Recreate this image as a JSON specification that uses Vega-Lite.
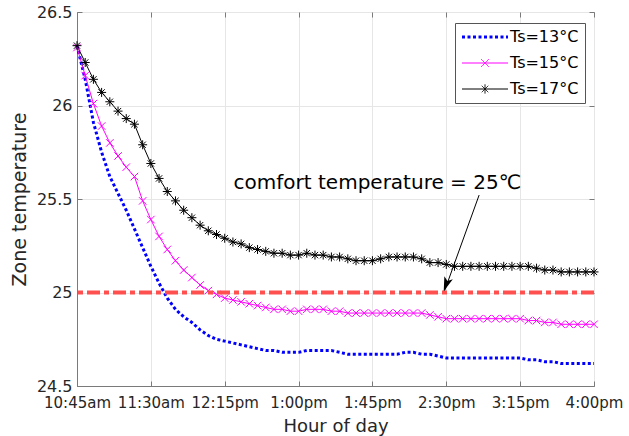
{
  "$schema": "https://vega.github.io/schema/vega-lite/v6.json",
  "width": 517,
  "height": 374,
  "autosize": "none",
  "padding": {"left": 77, "top": 12, "right": 35, "bottom": 50},
  "background": "white",
  "config": {
    "font": "DejaVu Sans",
    "view": {"stroke": "#7a7a7a", "strokeWidth": 1},
    "axis": {
      "labelFont": "DejaVu Sans",
      "titleFont": "DejaVu Sans",
      "labelColor": "#262626",
      "titleColor": "#262626",
      "titleFontWeight": "normal",
      "domainColor": "#7a7a7a",
      "tickColor": "#7a7a7a",
      "gridColor": "#e6e6e6",
      "gridWidth": 1,
      "labelFlush": false,
      "labelOverlap": false
    }
  },
  "datasets": {
    "zone": [
      {"time": "2024-01-01T10:45:00", "ts13": 26.32, "ts15": 26.31, "ts17": 26.32},
      {"time": "2024-01-01T10:50:00", "ts13": 26.14, "ts15": 26.16, "ts17": 26.23},
      {"time": "2024-01-01T10:55:00", "ts13": 25.91, "ts15": 26.01, "ts17": 26.14},
      {"time": "2024-01-01T11:00:00", "ts13": 25.75, "ts15": 25.89, "ts17": 26.07},
      {"time": "2024-01-01T11:05:00", "ts13": 25.62, "ts15": 25.80, "ts17": 26.02},
      {"time": "2024-01-01T11:10:00", "ts13": 25.53, "ts15": 25.73, "ts17": 25.97},
      {"time": "2024-01-01T11:15:00", "ts13": 25.44, "ts15": 25.67, "ts17": 25.93},
      {"time": "2024-01-01T11:20:00", "ts13": 25.34, "ts15": 25.62, "ts17": 25.90},
      {"time": "2024-01-01T11:25:00", "ts13": 25.24, "ts15": 25.49, "ts17": 25.79},
      {"time": "2024-01-01T11:30:00", "ts13": 25.14, "ts15": 25.39, "ts17": 25.69},
      {"time": "2024-01-01T11:35:00", "ts13": 25.05, "ts15": 25.30, "ts17": 25.61},
      {"time": "2024-01-01T11:40:00", "ts13": 24.97, "ts15": 25.23, "ts17": 25.54},
      {"time": "2024-01-01T11:45:00", "ts13": 24.91, "ts15": 25.17, "ts17": 25.49},
      {"time": "2024-01-01T11:50:00", "ts13": 24.87, "ts15": 25.12, "ts17": 25.44},
      {"time": "2024-01-01T11:55:00", "ts13": 24.84, "ts15": 25.08, "ts17": 25.40},
      {"time": "2024-01-01T12:00:00", "ts13": 24.80, "ts15": 25.04, "ts17": 25.36},
      {"time": "2024-01-01T12:05:00", "ts13": 24.77, "ts15": 25.01, "ts17": 25.33},
      {"time": "2024-01-01T12:10:00", "ts13": 24.75, "ts15": 24.99, "ts17": 25.31},
      {"time": "2024-01-01T12:15:00", "ts13": 24.74, "ts15": 24.97, "ts17": 25.29},
      {"time": "2024-01-01T12:20:00", "ts13": 24.73, "ts15": 24.96, "ts17": 25.27},
      {"time": "2024-01-01T12:25:00", "ts13": 24.72, "ts15": 24.95, "ts17": 25.26},
      {"time": "2024-01-01T12:30:00", "ts13": 24.71, "ts15": 24.94, "ts17": 25.24},
      {"time": "2024-01-01T12:35:00", "ts13": 24.70, "ts15": 24.93, "ts17": 25.23},
      {"time": "2024-01-01T12:40:00", "ts13": 24.69, "ts15": 24.92, "ts17": 25.22},
      {"time": "2024-01-01T12:45:00", "ts13": 24.69, "ts15": 24.91, "ts17": 25.21},
      {"time": "2024-01-01T12:50:00", "ts13": 24.68, "ts15": 24.91, "ts17": 25.21},
      {"time": "2024-01-01T12:55:00", "ts13": 24.68, "ts15": 24.90, "ts17": 25.20},
      {"time": "2024-01-01T13:00:00", "ts13": 24.68, "ts15": 24.90, "ts17": 25.20},
      {"time": "2024-01-01T13:05:00", "ts13": 24.69, "ts15": 24.91, "ts17": 25.21},
      {"time": "2024-01-01T13:10:00", "ts13": 24.69, "ts15": 24.91, "ts17": 25.20},
      {"time": "2024-01-01T13:15:00", "ts13": 24.69, "ts15": 24.91, "ts17": 25.20},
      {"time": "2024-01-01T13:20:00", "ts13": 24.69, "ts15": 24.90, "ts17": 25.19},
      {"time": "2024-01-01T13:25:00", "ts13": 24.68, "ts15": 24.90, "ts17": 25.19},
      {"time": "2024-01-01T13:30:00", "ts13": 24.67, "ts15": 24.89, "ts17": 25.18},
      {"time": "2024-01-01T13:35:00", "ts13": 24.67, "ts15": 24.89, "ts17": 25.17},
      {"time": "2024-01-01T13:40:00", "ts13": 24.67, "ts15": 24.89, "ts17": 25.17},
      {"time": "2024-01-01T13:45:00", "ts13": 24.67, "ts15": 24.89, "ts17": 25.17},
      {"time": "2024-01-01T13:50:00", "ts13": 24.67, "ts15": 24.89, "ts17": 25.18},
      {"time": "2024-01-01T13:55:00", "ts13": 24.67, "ts15": 24.89, "ts17": 25.19},
      {"time": "2024-01-01T14:00:00", "ts13": 24.67, "ts15": 24.89, "ts17": 25.19},
      {"time": "2024-01-01T14:05:00", "ts13": 24.68, "ts15": 24.89, "ts17": 25.19},
      {"time": "2024-01-01T14:10:00", "ts13": 24.68, "ts15": 24.89, "ts17": 25.19},
      {"time": "2024-01-01T14:15:00", "ts13": 24.67, "ts15": 24.89, "ts17": 25.18},
      {"time": "2024-01-01T14:20:00", "ts13": 24.67, "ts15": 24.88, "ts17": 25.16},
      {"time": "2024-01-01T14:25:00", "ts13": 24.66, "ts15": 24.87, "ts17": 25.16},
      {"time": "2024-01-01T14:30:00", "ts13": 24.65, "ts15": 24.86, "ts17": 25.15},
      {"time": "2024-01-01T14:35:00", "ts13": 24.65, "ts15": 24.86, "ts17": 25.14},
      {"time": "2024-01-01T14:40:00", "ts13": 24.65, "ts15": 24.86, "ts17": 25.14},
      {"time": "2024-01-01T14:45:00", "ts13": 24.65, "ts15": 24.86, "ts17": 25.14},
      {"time": "2024-01-01T14:50:00", "ts13": 24.65, "ts15": 24.86, "ts17": 25.14},
      {"time": "2024-01-01T14:55:00", "ts13": 24.65, "ts15": 24.86, "ts17": 25.14},
      {"time": "2024-01-01T15:00:00", "ts13": 24.65, "ts15": 24.86, "ts17": 25.14},
      {"time": "2024-01-01T15:05:00", "ts13": 24.65, "ts15": 24.86, "ts17": 25.14},
      {"time": "2024-01-01T15:10:00", "ts13": 24.65, "ts15": 24.86, "ts17": 25.14},
      {"time": "2024-01-01T15:15:00", "ts13": 24.65, "ts15": 24.86, "ts17": 25.14},
      {"time": "2024-01-01T15:20:00", "ts13": 24.64, "ts15": 24.85, "ts17": 25.14},
      {"time": "2024-01-01T15:25:00", "ts13": 24.64, "ts15": 24.85, "ts17": 25.13},
      {"time": "2024-01-01T15:30:00", "ts13": 24.63, "ts15": 24.84, "ts17": 25.12},
      {"time": "2024-01-01T15:35:00", "ts13": 24.63, "ts15": 24.84, "ts17": 25.12},
      {"time": "2024-01-01T15:40:00", "ts13": 24.62, "ts15": 24.83, "ts17": 25.11},
      {"time": "2024-01-01T15:45:00", "ts13": 24.62, "ts15": 24.83, "ts17": 25.11},
      {"time": "2024-01-01T15:50:00", "ts13": 24.62, "ts15": 24.83, "ts17": 25.11},
      {"time": "2024-01-01T15:55:00", "ts13": 24.62, "ts15": 24.83, "ts17": 25.11},
      {"time": "2024-01-01T16:00:00", "ts13": 24.62, "ts15": 24.83, "ts17": 25.11}
    ],
    "note": [
      {"time": "2024-01-01T13:48:00", "temp": 25.585, "label": "comfort temperature = 25℃"}
    ],
    "arrow": [
      {"time": "2024-01-01T14:50:00", "temp": 25.521, "time2": "2024-01-01T14:29:00", "temp2": 25.01, "headTime": "2024-01-01T14:30:00", "headTemp": 25.045}
    ]
  },
  "layer": [
    {
      "data": {"name": "zone"},
      "mark": {"type": "line", "strokeWidth": 3, "strokeDash": [3, 2.5], "strokeCap": "butt"},
      "encoding": {
        "x": {
          "field": "time",
          "type": "temporal",
          "scale": {
            "domain": [
              {"year": 2024, "month": 1, "date": 1, "hours": 10, "minutes": 45},
              {"year": 2024, "month": 1, "date": 1, "hours": 16, "minutes": 0}
            ],
            "nice": false
          },
          "axis": {
            "values": [
              {"year": 2024, "month": 1, "date": 1, "hours": 10, "minutes": 45},
              {"year": 2024, "month": 1, "date": 1, "hours": 11, "minutes": 30},
              {"year": 2024, "month": 1, "date": 1, "hours": 12, "minutes": 15},
              {"year": 2024, "month": 1, "date": 1, "hours": 13, "minutes": 0},
              {"year": 2024, "month": 1, "date": 1, "hours": 13, "minutes": 45},
              {"year": 2024, "month": 1, "date": 1, "hours": 14, "minutes": 30},
              {"year": 2024, "month": 1, "date": 1, "hours": 15, "minutes": 15},
              {"year": 2024, "month": 1, "date": 1, "hours": 16, "minutes": 0}
            ],
            "labelExpr": "lower(timeFormat(datum.value, '%-I:%M%p'))",
            "title": "Hour of day",
            "grid": true,
            "tickSize": -5,
            "labelPadding": 14,
            "labelFontSize": 15,
            "titleFontSize": 18,
            "titlePadding": 7
          }
        },
        "y": {
          "field": "ts13",
          "type": "quantitative",
          "scale": {"domain": [24.5, 26.5], "nice": false, "zero": false},
          "axis": {
            "values": [24.5, 25, 25.5, 26, 26.5],
            "format": "~g",
            "title": "Zone temperature",
            "grid": true,
            "tickSize": -5,
            "labelPadding": 10,
            "labelFontSize": 16,
            "titleFontSize": 19,
            "titlePadding": 7
          }
        },
        "color": {
          "datum": "Ts=13°C",
          "type": "nominal",
          "scale": {"domain": ["Ts=13°C", "Ts=15°C", "Ts=17°C"], "range": ["#0000ff", "#ff00ff", "#000000"]},
          "legend": {
            "orient": "none",
            "legendX": 378,
            "legendY": 11,
            "title": null,
            "padding": 6,
            "strokeColor": "#555555",
            "fillColor": "white",
            "labelFont": "DejaVu Sans",
            "labelFontSize": 16,
            "labelColor": "#000000",
            "labelOffset": 17,
            "symbolOffset": 16,
            "symbolType": "stroke",
            "symbolSize": 2116,
            "rowPadding": 10,
            "encode": {
              "symbols": {
                "update": {
                  "shape": {"signal": "datum.value === 'Ts=15°C' ? 'M-1,0H1M-0.17,-0.17L0.17,0.17M-0.17,0.17L0.17,-0.17' : datum.value === 'Ts=17°C' ? 'M-1,0H1M0,-0.2V0.2M-0.14,-0.14L0.14,0.14M-0.14,0.14L0.14,-0.14' : 'M-1,0H1'"},
                  "strokeDash": {"signal": "datum.value === 'Ts=13°C' ? [3, 2.5] : [1, 0]"},
                  "strokeWidth": {"signal": "datum.value === 'Ts=13°C' ? 3 : 1"},
                  "strokeCap": {"value": "butt"}
                }
              }
            }
          }
        }
      }
    },
    {
      "data": {"name": "zone"},
      "mark": {"type": "line", "strokeWidth": 1},
      "encoding": {
        "x": {"field": "time", "type": "temporal", "axis": null},
        "y": {"field": "ts15", "type": "quantitative", "axis": null},
        "color": {"datum": "Ts=15°C", "type": "nominal"}
      }
    },
    {
      "data": {"name": "zone"},
      "mark": {"type": "line", "strokeWidth": 1},
      "encoding": {
        "x": {"field": "time", "type": "temporal", "axis": null},
        "y": {"field": "ts17", "type": "quantitative", "axis": null},
        "color": {"datum": "Ts=17°C", "type": "nominal"}
      }
    },
    {
      "data": {"name": "zone"},
      "mark": {"type": "point", "shape": "M-1,-1L1,1M-1,1L1,-1", "filled": false, "size": 56, "strokeWidth": 1, "color": "#ff00ff", "opacity": 1},
      "encoding": {
        "x": {"field": "time", "type": "temporal", "axis": null},
        "y": {"field": "ts15", "type": "quantitative", "axis": null}
      }
    },
    {
      "data": {"name": "zone"},
      "mark": {"type": "point", "shape": "M-1,0H1M0,-1V1M-0.7,-0.7L0.7,0.7M-0.7,0.7L0.7,-0.7", "filled": false, "size": 81, "strokeWidth": 1, "color": "#000000", "opacity": 1},
      "encoding": {
        "x": {"field": "time", "type": "temporal", "axis": null},
        "y": {"field": "ts17", "type": "quantitative", "axis": null}
      }
    },
    {
      "data": {"values": [{}]},
      "mark": {"type": "rule", "color": "#ff5050", "strokeWidth": 4, "strokeDash": [13, 4, 5, 4], "strokeCap": "butt"},
      "encoding": {"y": {"datum": 25, "type": "quantitative", "axis": null}}
    },
    {
      "data": {"name": "note"},
      "mark": {"type": "text", "font": "DejaVu Sans", "fontSize": 20, "align": "center", "baseline": "middle", "color": "#000000"},
      "encoding": {
        "x": {"field": "time", "type": "temporal", "axis": null},
        "y": {"field": "temp", "type": "quantitative", "axis": null},
        "text": {"field": "label"}
      }
    },
    {
      "data": {"name": "arrow"},
      "mark": {"type": "rule", "color": "#000000", "strokeWidth": 1},
      "encoding": {
        "x": {
          "field": "time",
          "type": "temporal",
          "axis": {
            "orient": "top",
            "values": [
              {"year": 2024, "month": 1, "date": 1, "hours": 10, "minutes": 45},
              {"year": 2024, "month": 1, "date": 1, "hours": 11, "minutes": 30},
              {"year": 2024, "month": 1, "date": 1, "hours": 12, "minutes": 15},
              {"year": 2024, "month": 1, "date": 1, "hours": 13, "minutes": 0},
              {"year": 2024, "month": 1, "date": 1, "hours": 13, "minutes": 45},
              {"year": 2024, "month": 1, "date": 1, "hours": 14, "minutes": 30},
              {"year": 2024, "month": 1, "date": 1, "hours": 15, "minutes": 15},
              {"year": 2024, "month": 1, "date": 1, "hours": 16, "minutes": 0}
            ],
            "labels": false,
            "title": null,
            "grid": false,
            "domain": false,
            "tickSize": -5
          }
        },
        "y": {
          "field": "temp",
          "type": "quantitative",
          "axis": {
            "orient": "right",
            "values": [24.5, 25, 25.5, 26, 26.5],
            "labels": false,
            "title": null,
            "grid": false,
            "domain": false,
            "tickSize": -5
          }
        },
        "x2": {"field": "time2"},
        "y2": {"field": "temp2"}
      }
    },
    {
      "data": {"name": "arrow"},
      "mark": {"type": "point", "shape": "M0,1L-0.6,-0.9L0,-0.45L0.6,-0.9Z", "filled": true, "size": 225, "angle": 20, "color": "#000000", "opacity": 1, "strokeWidth": 0},
      "encoding": {
        "x": {"field": "headTime", "type": "temporal", "axis": null},
        "y": {"field": "headTemp", "type": "quantitative", "axis": null}
      }
    }
  ],
  "resolve": {"axis": {"x": "independent", "y": "independent"}}
}
